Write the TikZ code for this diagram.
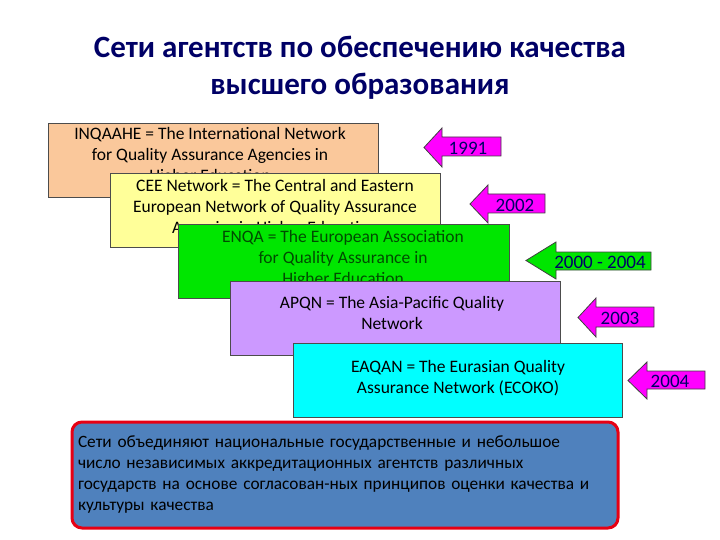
\documentclass[tikz,border=0pt]{standalone}
\usepackage{fontspec}
\setmainfont{Carlito}
\definecolor{mag}{RGB}{255,0,255}
\begin{document}
\begin{tikzpicture}[x=1pt,y=-1pt,
  netbox/.style={draw=black!70, line width=0.8pt},
  nettext/.style={anchor=north, align=center, font=\fontsize{17.5}{21}\selectfont, inner sep=0pt},
  yeararrow/.style={draw=black!75, line width=0.8pt},
  yeartext/.style={font=\fontsize{19}{20}\selectfont, text=black!60!blue}]
\useasboundingbox (0,0) rectangle (720,540);
\node[font=\bfseries\fontsize{31}{37}\selectfont, text=blue!40!black, align=center] (title) at (360,68) {Сети агентств по обеспечению качества\\высшего образования};
% boxes
\fill[fill={rgb,255:red,250;green,200;blue,155}, netbox] (48,123) rectangle (378,197);
\node[nettext] (b1) at (210,127) {INQAAHE = The International Network\\for Quality Assurance Agencies in\\Higher Education};
\fill[fill={rgb,255:red,255;green,255;blue,153}, netbox] (110,173) rectangle (440,247);
\node[nettext] (b2) at (275,179) {CEE Network = The Central and Eastern\\European Network of Quality Assurance\\Agencies in Higher Education};
\fill[fill={rgb,255:red,0;green,230;blue,0}, netbox] (178,224) rectangle (509,298);
\node[nettext, text=black!70!green] (b3) at (343,230) {ENQA = The European Association\\for Quality Assurance in\\Higher Education};
\fill[fill={rgb,255:red,204;green,153;blue,255}, netbox] (230,281) rectangle (560,355);
\node[nettext] (b4) at (392,296) {APQN = The Asia-Pacific Quality\\Network};
\fill[fill={rgb,255:red,0;green,255;blue,255}, netbox] (293,343) rectangle (622,417);
\node[nettext] (b5) at (458,360) {EAQAN = The Eurasian Quality\\Assurance Network (ЕСОКО)};
% arrows
\filldraw[fill=mag, yeararrow] (424,147.5)--(442,128)--(442,137)--(501,137)--(501,156)--(442,156)--(442,167)--cycle;
\node[yeartext] (y1) at (468,148) {1991};
\filldraw[fill=mag, yeararrow] (470,204)--(488,185)--(488,194)--(545,194)--(545,213)--(488,213)--(488,223)--cycle;
\node[yeartext] (y2) at (515,205) {2002};
\filldraw[fill={rgb,255:red,0;green,230;blue,0}, yeararrow] (526,260.5)--(556,242)--(556,252)--(651,252)--(651,270)--(556,270)--(556,279)--cycle;
\node[yeartext] (y3) at (600,262) {2000 - 2004};
\filldraw[fill=mag, yeararrow] (578,317.5)--(596,298)--(596,307)--(654,307)--(654,327)--(596,327)--(596,337)--cycle;
\node[yeartext] (y4) at (620,318) {2003};
\filldraw[fill=mag, yeararrow] (628,380.5)--(647,362)--(647,371)--(705,371)--(705,389)--(647,389)--(647,399)--cycle;
\node[yeartext] (y5) at (670,381) {2004};
% bottom box
\node[draw={rgb,255:red,230;green,0;blue,20}, line width=3pt, rounded corners=10pt,
  fill={rgb,255:red,79;green,129;blue,189}, minimum width=546pt, minimum height=106pt,
  text width=534pt, align=left, inner sep=6pt, font=\fontsize{17.3}{21}\selectfont] (note) at (345,475)
 {Сети объединяют национальные государственные и небольшое\\число независимых аккредитационных агентств различных\\государств на основе согласован-ных принципов оценки качества и\\культуры качества};
\end{tikzpicture}
\end{document}
